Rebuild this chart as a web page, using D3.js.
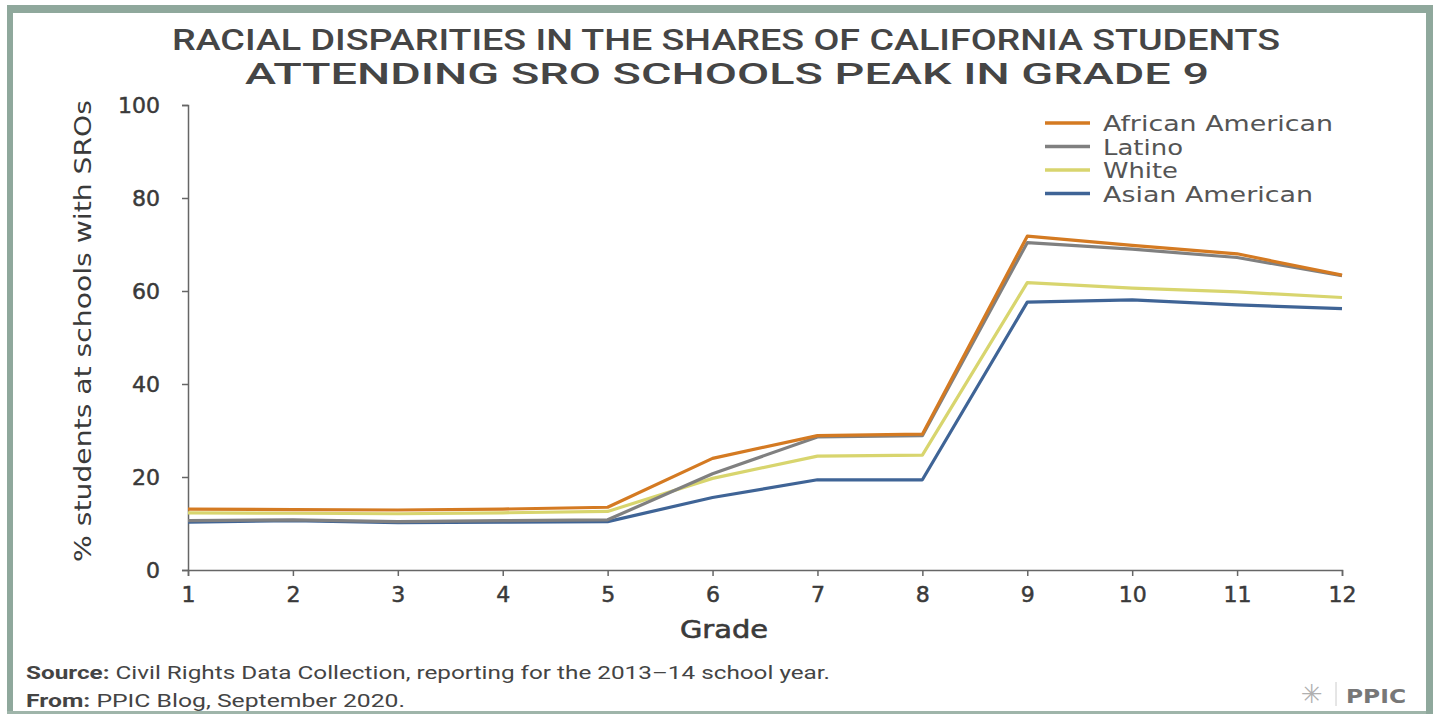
<!DOCTYPE html>
<html>
<head>
<meta charset="utf-8">
<script src="https://cdn.jsdelivr.net/npm/d3@7"></script>
<style>
  html, body { margin: 0; padding: 0; background: #fff; }
  svg { display: block; }
</style>
</head>
<body>
<svg id="chart" width="1433" height="714"></svg>
<script>
const grades = [1, 2, 3, 4, 5, 6, 7, 8, 9, 10, 11, 12];
const seriesNames = ["African American", "Latino", "White", "Asian American"];
const africanAmerican = [13.1, 13.0, 12.9, 13.1, 13.5, 24.0, 28.9, 29.2, 71.8, 69.8, 68.0, 63.4];
const latino          = [10.6, 10.8, 10.4, 10.6, 10.8, 20.7, 28.6, 28.9, 70.4, 69.0, 67.2, 63.3];
const white           = [12.3, 12.2, 12.1, 12.3, 12.6, 19.7, 24.5, 24.7, 61.8, 60.6, 59.8, 58.6];
const asianAmerican   = [10.3, 10.6, 10.2, 10.3, 10.4, 15.6, 19.4, 19.4, 57.6, 58.1, 57.0, 56.2];
const yTicks = [0, 20, 40, 60, 80, 100];
const titleLines = ["RACIAL DISPARITIES IN THE SHARES OF CALIFORNIA STUDENTS", "ATTENDING SRO SCHOOLS PEAK IN GRADE 9"];
const yAxisLabel = "% students at schools with SROs";
const xAxisLabel = "Grade";

const colors = ["#d47a22", "#808080", "#d8d56e", "#3f6496"];
const seriesData = [africanAmerican, latino, white, asianAmerican];

const svg = d3.select("#chart");
const W = 1433, H = 714;

// frame
svg.append("rect").attr("x", 0).attr("y", 0).attr("width", W).attr("height", H).attr("fill", "#fff");
svg.append("rect").attr("x", 7).attr("y", 5).attr("width", W - 7).attr("height", 8).attr("fill", "#8fa89c");
svg.append("rect").attr("x", 7).attr("y", 5).attr("width", 6).attr("height", H - 5).attr("fill", "#8fa89c");
svg.append("rect").attr("x", 7).attr("y", 711).attr("width", W - 7).attr("height", 3).attr("fill", "#9fb5aa");
svg.append("rect").attr("x", 1426).attr("y", 5).attr("width", 7).attr("height", H - 5).attr("fill", "#8fa89c");

// title
const titleFont = "Roboto, 'Liberation Sans', sans-serif";
svg.append("text").attr("x", 726).attr("y", 50).text(titleLines[0])
  .attr("text-anchor", "middle").attr("font-family", titleFont)
  .attr("font-weight", 500).attr("font-size", 29).attr("fill", "#454545")
  .attr("textLength", 1108).attr("lengthAdjust", "spacingAndGlyphs");
svg.append("text").attr("x", 727).attr("y", 84).text(titleLines[1])
  .attr("text-anchor", "middle").attr("font-family", titleFont)
  .attr("font-weight", 500).attr("font-size", 29).attr("fill", "#454545")
  .attr("textLength", 964).attr("lengthAdjust", "spacingAndGlyphs");

const margin = { left: 188, right: 1342, top: 105, bottom: 570 };
const x = d3.scaleLinear().domain([1, 12]).range([margin.left, margin.right]);
const y = d3.scaleLinear().domain([0, 100]).range([margin.bottom, margin.top]);

const tickFont = "'DejaVu Sans', 'Open Sans', sans-serif";

// y axis
const yAxis = svg.append("g").attr("transform", `translate(${margin.left},0)`)
  .call(d3.axisLeft(y).tickValues(yTicks).tickSize(6).tickPadding(22));
yAxis.select(".domain").attr("stroke", "#666").attr("stroke-width", 1.5);
yAxis.selectAll(".tick line").attr("stroke", "#666").attr("stroke-width", 1.5);
yAxis.selectAll(".tick text").attr("font-family", tickFont).attr("font-size", 22)
  .attr("fill", "#3a3a3a").attr("stroke", "#3a3a3a").attr("stroke-width", 0.5);

// x axis
const xAxis = svg.append("g").attr("transform", `translate(0,${margin.bottom})`)
  .call(d3.axisBottom(x).tickValues(grades).tickFormat(d3.format("d")).tickSize(6).tickPadding(10));
xAxis.select(".domain").attr("stroke", "#666").attr("stroke-width", 1.5);
xAxis.selectAll(".tick line").attr("stroke", "#666").attr("stroke-width", 1.5);
xAxis.selectAll(".tick text").attr("font-family", tickFont).attr("font-size", 22)
  .attr("fill", "#3a3a3a").attr("stroke", "#3a3a3a").attr("stroke-width", 0.5);

// axis labels
svg.append("text").attr("x", 724).attr("y", 638).text(xAxisLabel)
  .attr("text-anchor", "middle").attr("font-family", tickFont)
  .attr("font-size", 24).attr("fill", "#3a3a3a").attr("stroke", "#3a3a3a").attr("stroke-width", 0.6)
  .attr("textLength", 88).attr("lengthAdjust", "spacingAndGlyphs");
svg.append("text").attr("transform", "translate(91,331) rotate(-90)").text(yAxisLabel)
  .attr("text-anchor", "middle").attr("font-family", tickFont)
  .attr("font-size", 23).attr("fill", "#3a3a3a")
  .attr("textLength", 462).attr("lengthAdjust", "spacingAndGlyphs");

// lines (draw bottom first so orange is on top)
const line = d3.line().x((d, i) => x(grades[i])).y(d => y(d));
const order = [3, 2, 1, 0];
order.forEach(k => {
  svg.append("path").datum(seriesData[k]).attr("d", line)
    .attr("fill", "none").attr("stroke", colors[k]).attr("stroke-width", 3.2)
    .attr("stroke-linejoin", "round");
});

// legend
const legendWidths = [230, 80, 75, 210];
const legend = svg.append("g");
seriesNames.forEach((name, i) => {
  const ly = 123 + i * 23.5;
  legend.append("line").attr("x1", 1045).attr("x2", 1090).attr("y1", ly).attr("y2", ly)
    .attr("stroke", colors[i]).attr("stroke-width", 3.5);
  legend.append("text").attr("x", 1103).attr("y", ly + 8).text(name)
    .attr("font-family", tickFont).attr("font-size", 22).attr("fill", "#555")
    .attr("textLength", legendWidths[i]).attr("lengthAdjust", "spacingAndGlyphs");
});

// source
const srcFont = "Roboto, 'Liberation Sans', sans-serif";
const s1 = svg.append("text").attr("x", 26).attr("y", 679).attr("font-family", srcFont)
  .attr("font-size", 19).attr("fill", "#444")
  .attr("textLength", 804).attr("lengthAdjust", "spacingAndGlyphs");
s1.append("tspan").attr("font-weight", "bold").text("Source:");
s1.append("tspan").text(" Civil Rights Data Collection,  reporting for the 2013–14 school year.");
const s2 = svg.append("text").attr("x", 26).attr("y", 707).attr("font-family", srcFont)
  .attr("font-size", 19).attr("fill", "#444")
  .attr("textLength", 379).attr("lengthAdjust", "spacingAndGlyphs");
s2.append("tspan").attr("font-weight", "bold").text("From:");
s2.append("tspan").text(" PPIC Blog, September 2020.");

// logo
svg.append("text").attr("x", 1312).attr("y", 703).attr("text-anchor", "middle").text("✳")
  .attr("font-family", "'DejaVu Sans', sans-serif").attr("font-size", 26).attr("fill", "#b0b0b0");
svg.append("line").attr("x1", 1336).attr("x2", 1336).attr("y1", 682).attr("y2", 706)
  .attr("stroke", "#ccc").attr("stroke-width", 1);
svg.append("text").attr("x", 1346).attr("y", 703).text("PPIC")
  .attr("font-family", "'DejaVu Sans', sans-serif").attr("font-weight", "bold").attr("font-size", 20)
  .attr("fill", "#777").attr("textLength", 60).attr("lengthAdjust", "spacingAndGlyphs");
</script>
</body>
</html>
